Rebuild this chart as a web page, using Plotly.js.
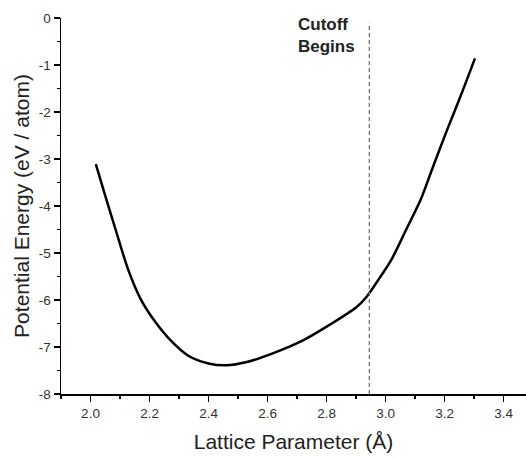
<!DOCTYPE html>
<html>
<head>
<meta charset="utf-8">
<script src="https://cdn.plot.ly/plotly-3.0.1.min.js"></script>
<style>html,body{margin:0;padding:0;background:#fff;overflow:hidden}</style>
</head>
<body>
<div id="chart" style="width:526px;height:458px"></div>
<script>
const latticeParam = [2.018, 2.045, 2.085, 2.128, 2.170, 2.22, 2.27, 2.33, 2.40, 2.46, 2.53, 2.62, 2.72, 2.81, 2.90, 2.936, 2.98, 3.02, 3.07, 3.12, 3.16, 3.21, 3.26, 3.303];
const energy = [-3.11, -3.68, -4.50, -5.36, -5.98, -6.47, -6.85, -7.18, -7.35, -7.39, -7.32, -7.13, -6.86, -6.53, -6.16, -5.93, -5.53, -5.14, -4.50, -3.85, -3.18, -2.36, -1.57, -0.86];
const xTickVals = [2.0, 2.2, 2.4, 2.6, 2.8, 3.0, 3.2, 3.4];
const xTickText = ["2.0", "2.2", "2.4", "2.6", "2.8", "3.0", "3.2", "3.4"];
const yTickVals = [0, -1, -2, -3, -4, -5, -6, -7, -8];
const yTickText = ["0", "-1", "-2", "-3", "-4", "-5", "-6", "-7", "-8"];
const cutoffX = 2.945;
const cutoffLabel = "Cutoff<br>Begins";
const xTitle = "Lattice Parameter (Å)";
const yTitle = "Potential Energy (eV / atom)";

const font = "Liberation Sans, Arial, sans-serif";
const trace = {
  x: latticeParam, y: energy, mode: "lines", type: "scatter",
  line: {color: "#000", width: 2.5, shape: "spline", smoothing: 0.8},
  hoverinfo: "none"
};
const layout = {
  width: 526, height: 458,
  margin: {l: 61, r: 0, t: 18, b: 64},
  paper_bgcolor: "#fff", plot_bgcolor: "#fff",
  showlegend: false,
  font: {family: font, color: "#222"},
  xaxis: {
    range: [1.9, 3.476], tickmode: "array", tickvals: xTickVals, ticktext: xTickText,
    showgrid: false, zeroline: false, showline: true, linecolor: "#000", linewidth: 1.5,
    ticks: "outside", ticklen: 6, tickwidth: 1.2, tickcolor: "#000",
    minor: {dtick: 0.1, tick0: 2.0, ticks: "outside", ticklen: 3, tickcolor: "#000", tickwidth: 1.2},
    tickfont: {size: 13.5, color: "#333", family: font},
    title: {text: xTitle, font: {size: 21, color: "#222", family: font}, standoff: 14},
    automargin: false
  },
  yaxis: {
    range: [-8, 0], tickmode: "array", tickvals: yTickVals, ticktext: yTickText,
    showgrid: false, zeroline: false, showline: true, linecolor: "#000", linewidth: 1.5,
    ticks: "outside", ticklen: 6, tickwidth: 1.2, tickcolor: "#000",
    minor: {dtick: 0.5, tick0: 0, ticks: "outside", ticklen: 3, tickcolor: "#000", tickwidth: 1.2},
    tickfont: {size: 13.5, color: "#333", family: font},
    title: {text: yTitle, font: {size: 21, color: "#222", family: font}, standoff: 3},
    automargin: false
  },
  shapes: [{type: "line", xref: "x", yref: "y", x0: cutoffX, x1: cutoffX, y0: -8, y1: -0.1,
    line: {color: "#777", width: 1.3, dash: "4px,3px"}}],
  annotations: [{
    x: cutoffX, y: 0, xref: "x", yref: "y", xanchor: "right", yanchor: "top",
    xshift: -12, yshift: 5, showarrow: false, align: "left",
    text: "<b>" + cutoffLabel + "</b>",
    font: {size: 17, color: "#222", family: font}
  }]
};
Plotly.newPlot("chart", [trace], layout, {staticPlot: true, displayModeBar: false});
</script>
</body>
</html>
